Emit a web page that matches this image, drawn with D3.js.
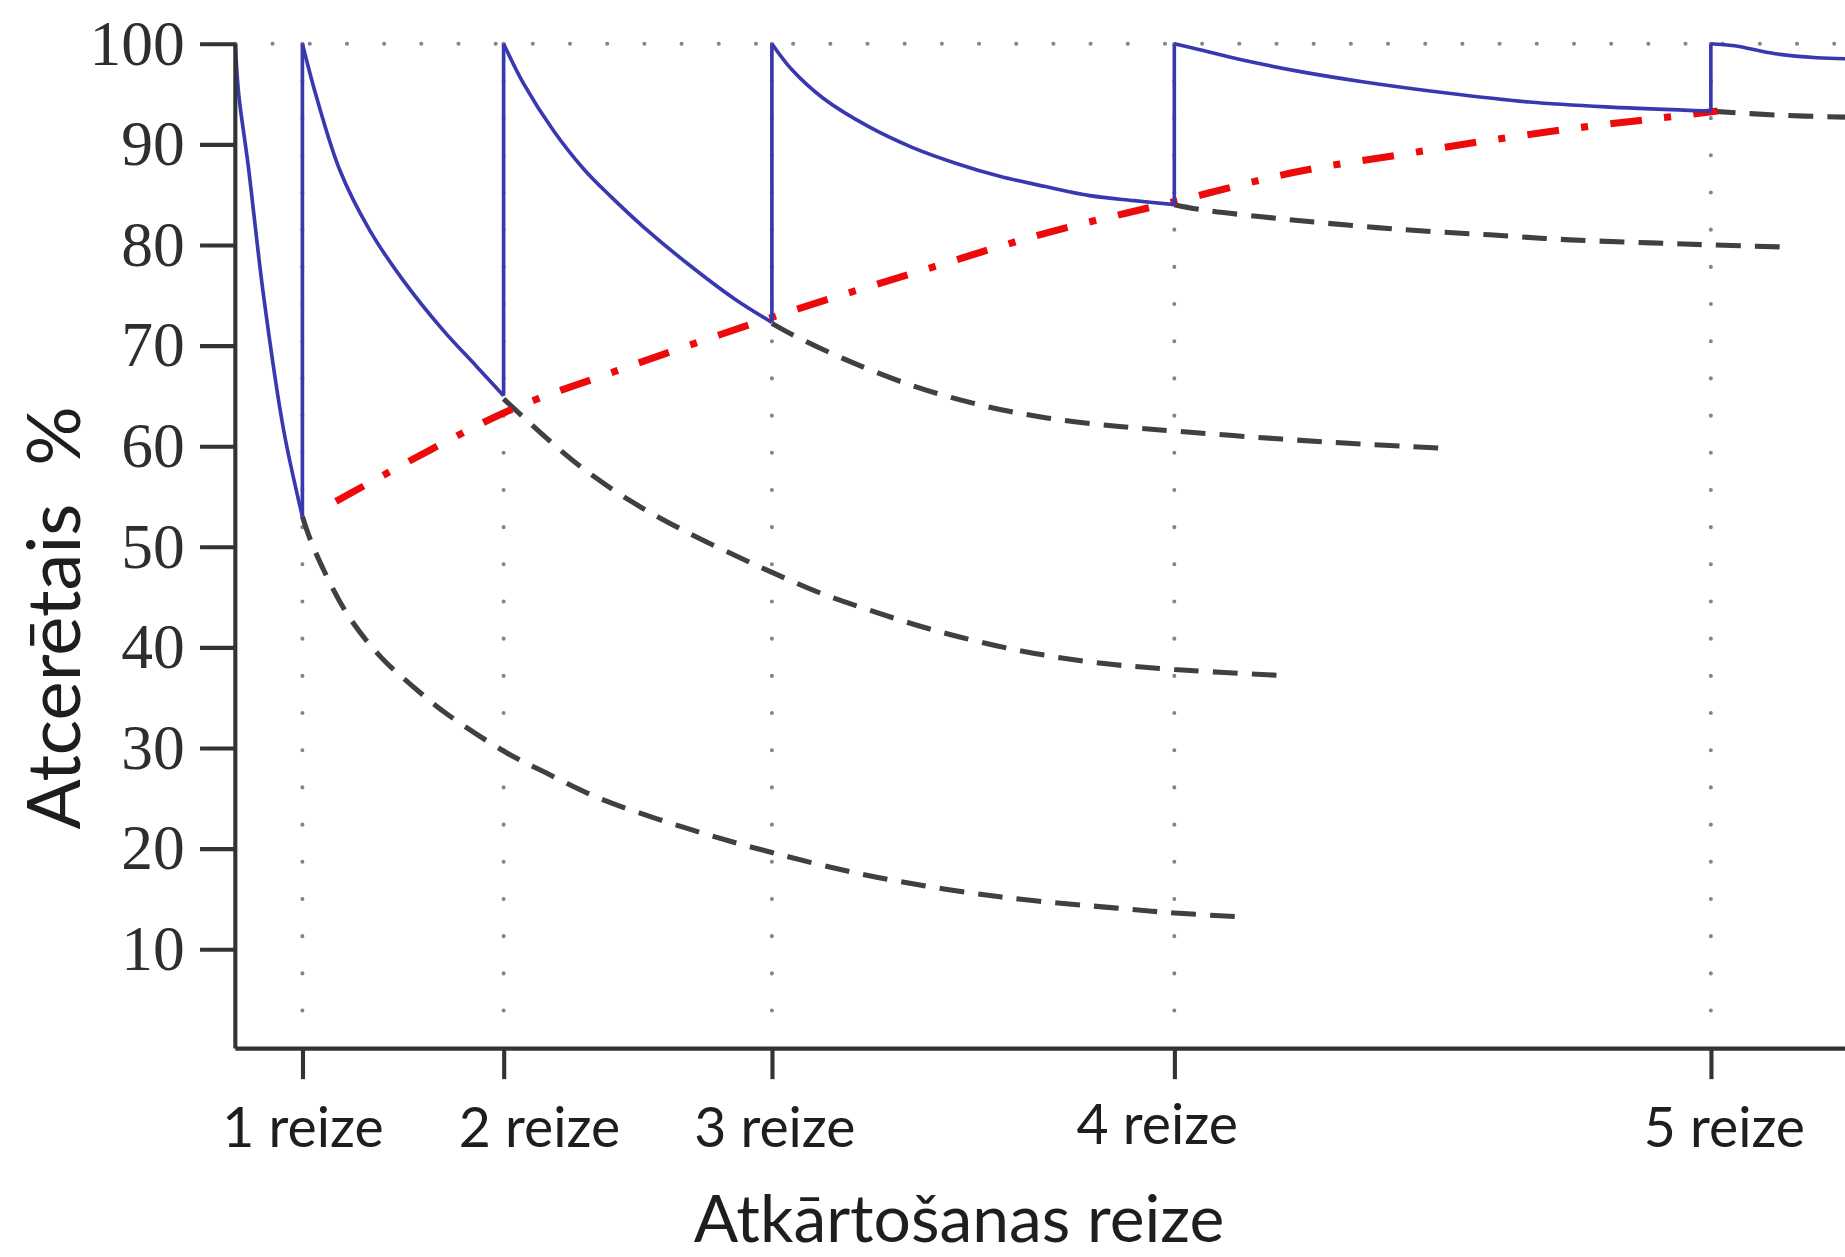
<!DOCTYPE html>
<html>
<head>
<meta charset="utf-8">
<script src="https://cdn.jsdelivr.net/npm/d3@7"></script>
<style>
  html, body { margin: 0; padding: 0; background: #fff; }
  svg { display: block; }
</style>
</head>
<body>
<div id="chart"></div>
<script>
// repetitions (x in "time units", y in % remembered)
const repeatX = [1, 4, 8, 14, 22];
const repeatLabels = ["1 reize", "2 reize", "3 reize", "4 reize", "5 reize"];
const yTicks = [10, 20, 30, 40, 50, 60, 70, 80, 90, 100];

// blue retention curve, one piece per interval between repetitions
const retentionSegments = [
  [[0, 100], [0.05, 95], [0.19, 88], [0.42, 75], [0.72, 61.6], [1, 53]],
  [[1, 100], [1.21, 94.7], [1.56, 87.4], [2.0, 81.5], [2.5, 76.5], [3.1, 71.5], [3.6, 67.9], [4, 65]],
  [[4, 100], [4.3, 96], [4.75, 91.3], [5.2, 87.5], [5.6, 84.8], [6.1, 81.7], [6.75, 78.1], [7.45, 74.6], [8, 72.3]],
  [[8, 100], [8.3, 97.4], [8.76, 94.6], [9.43, 91.8], [10.09, 89.7], [10.75, 88.1], [11.41, 86.8], [12.08, 85.8], [12.74, 84.9], [13.4, 84.4], [14, 84]],
  [[14, 100], [14.38, 99.4], [15, 98.4], [15.9, 97.2], [16.83, 96.2], [18.06, 95.1], [19.29, 94.2], [20.5, 93.7], [22, 93.3]],
  [[22, 100], [22.35, 99.8], [22.96, 99.0], [23.58, 98.6], [24, 98.5]],
];

// dashed: what happens without the next repetition
const forgetCurves = [
  [[1, 53], [1.16, 50], [1.66, 43.4], [2.16, 39.1], [2.65, 36.1], [3.15, 33.4], [4.05, 29.5], [4.64, 27.5], [5.39, 25.1], [6.64, 22.2], [8, 19.6], [9.6, 17.1], [11.4, 15.2], [13.1, 14.1], [14, 13.6], [15, 13.2]],
  [[4, 64.7], [4.54, 61.4], [5.14, 58], [5.88, 54.6], [6.63, 51.8], [7.62, 48.6], [8.02, 47.4], [8.72, 45.4], [9.5, 43.6], [10.42, 41.7], [11.6, 39.8], [12.8, 38.5], [14, 37.8], [15.6, 37.2]],
  [[8, 72.2], [8.3, 71.1], [9.1, 68.6], [10.1, 66], [11.1, 64.1], [12.1, 62.8], [13.1, 62], [14, 61.5], [15.6, 60.7], [16.8, 60.2], [18, 59.8]],
  [[14, 84], [14.4, 83.5], [15.3, 82.8], [16.2, 82.2], [17.45, 81.5], [18.7, 81], [19.9, 80.5], [21.1, 80.2], [22, 80], [23.05, 79.8]],
  [[22, 93.3], [23, 92.9], [24, 92.7]],
];

// red dash-dot: level reached at each repetition
const trendPoints = [[1.5, 54.5], [4, 63.3], [5.65, 67.4], [8, 72.8], [10.4, 77.8], [12.1, 81.2], [14, 84.3], [15.85, 87.3], [17.4, 89], [18.6, 90.3], [19.85, 91.5], [21.1, 92.5], [22.1, 93.3]];

// small horizontal nudges of the x labels, as placed in the original
const labelNudge = [0, 30, 2, -15, 11];

const config = {
  viewW: 1568,
  viewH: 1068,
  plot: { left: 200, right: 1568, top: 37, bottom: 892 },
  xMax: 24,
};

const svg = d3.select("#chart")
  .append("svg")
  .attr("width", 1845)
  .attr("height", 1257)
  .attr("viewBox", `0 0 ${config.viewW} ${config.viewH}`);

const x = d3.scaleLinear().domain([0, config.xMax]).range([config.plot.left, config.plot.right]);
const y = d3.scaleLinear().domain([0, 100]).range([config.plot.bottom, config.plot.top]);

const line = d3.line()
  .x(d => x(d[0]))
  .y(d => y(d[1]))
  .curve(d3.curveCatmullRom.alpha(0.5));

// dotted guides
const grid = svg.append("g").attr("class", "grid")
  .attr("stroke", "#858585")
  .attr("stroke-width", 3.4)
  .attr("stroke-linecap", "round")
  .attr("stroke-dasharray", "0.1 31.5");

grid.append("line")
  .attr("x1", x(0)).attr("x2", x(config.xMax))
  .attr("y1", y(100)).attr("y2", y(100));

grid.selectAll("line.v")
  .data(repeatX)
  .join("line")
  .attr("class", "v")
  .attr("x1", d => x(d)).attr("x2", d => x(d))
  .attr("y1", y(100)).attr("y2", y(3));

// forgetting curves (dashed)
svg.append("g")
  .selectAll("path")
  .data(forgetCurves)
  .join("path")
  .attr("d", line)
  .attr("fill", "none")
  .attr("stroke", "#404040")
  .attr("stroke-width", 4.3)
  .attr("stroke-dasharray", "21 12");

// trend (red dash-dot)
svg.append("path")
  .datum(trendPoints)
  .attr("d", line)
  .attr("fill", "none")
  .attr("stroke", "#ee0a0a")
  .attr("stroke-width", 6)
  .attr("stroke-dasharray", "27 19 6 19");

// blue retention
const blue = svg.append("g")
  .attr("fill", "none")
  .attr("stroke", "#3838b0")
  .attr("stroke-width", 3.1);

blue.selectAll("path")
  .data(retentionSegments)
  .join("path")
  .attr("d", line);

// vertical jumps back to 100% at each repetition
blue.selectAll("line")
  .data(retentionSegments.slice(0, -1))
  .join("line")
  .attr("x1", d => x(d[d.length - 1][0]))
  .attr("x2", d => x(d[d.length - 1][0]))
  .attr("y1", d => y(d[d.length - 1][1]))
  .attr("y2", y(100));

// axes
const yAxis = svg.append("g")
  .attr("transform", `translate(${config.plot.left},0)`)
  .call(d3.axisLeft(y).tickValues(yTicks).tickSize(30).tickSizeOuter(0).tickPadding(13));

yAxis.select(".domain").attr("d", `M0,${y(100)}V${config.plot.bottom - 1}`);

const xAxis = svg.append("g")
  .attr("transform", `translate(0,${config.plot.bottom - 1})`)
  .call(d3.axisBottom(x).tickValues(repeatX).tickSize(26).tickSizeOuter(0)
    .tickFormat((d, i) => repeatLabels[i]));

xAxis.select(".domain").attr("d", `M${config.plot.left},0H${config.plot.right}`);

svg.selectAll(".domain, .tick line")
  .attr("stroke", "#333")
  .attr("stroke-width", 3.5);

yAxis.selectAll("text")
  .attr("font-family", "'Liberation Serif', 'DejaVu Serif', serif")
  .attr("font-size", 54)
  .attr("fill", "#2e2e2e");

xAxis.selectAll("text")
  .attr("font-family", "Lato, 'Open Sans', sans-serif")
  .attr("font-size", 47)
  .attr("fill", "#1e1e1e")
  .attr("dy", null)
  .attr("y", (d, i) => (i === 3 ? 81 : 84))
  .attr("x", (d, i) => labelNudge[i]);

// axis titles
svg.append("text")
  .attr("x", 815)
  .attr("y", 1055)
  .attr("text-anchor", "middle")
  .attr("font-family", "Lato, 'Open Sans', sans-serif")
  .attr("font-size", 56)
  .attr("fill", "#1e1e1e")
  .text("Atkārtošanas reize");

svg.append("text")
  .attr("transform", "translate(68,525) rotate(-90)")
  .attr("text-anchor", "middle")
  .attr("font-family", "Lato, 'Open Sans', sans-serif")
  .attr("font-size", 63)
  .attr("fill", "#1e1e1e")
  .style("white-space", "pre")
  .text("Atcerētais  %");
</script>
</body>
</html>
